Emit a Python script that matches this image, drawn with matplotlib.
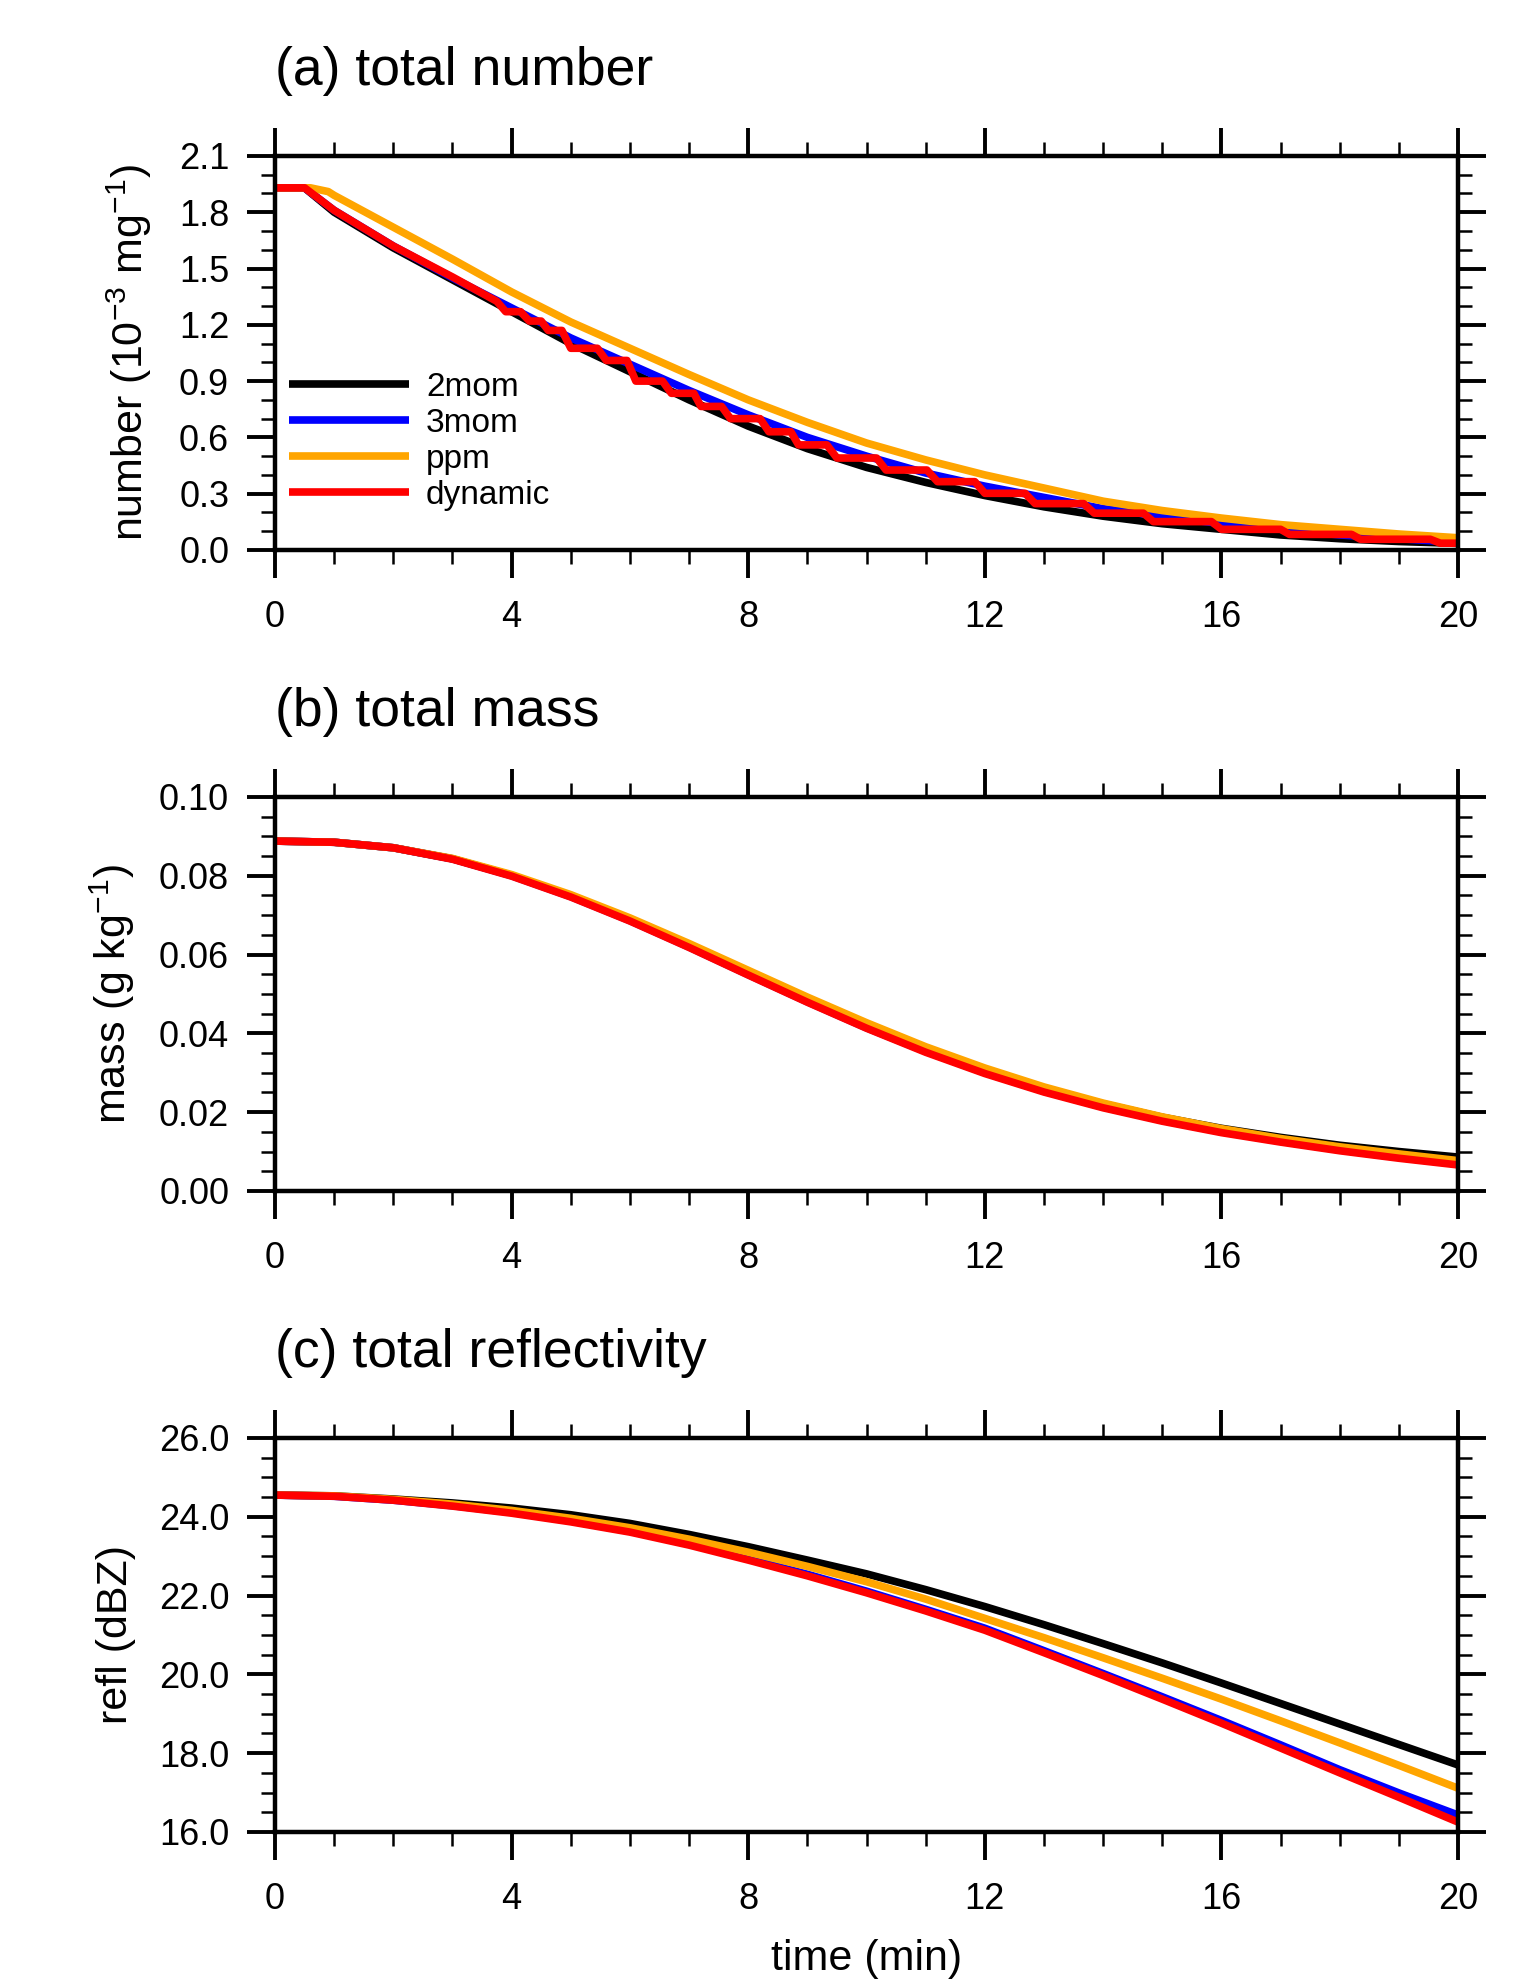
import matplotlib.pyplot as plt
from matplotlib.ticker import MultipleLocator, FormatStrFormatter

plt.rcParams['font.family'] = ['Liberation Sans', 'DejaVu Sans']
plt.rcParams['mathtext.default'] = 'regular'

# ---- data ----
schemes = ["2mom", "3mom", "ppm", "dynamic"]
colors = ["black", "#0000FF", "#FFA500", "#FF0000"]

# (a) total number (10^-3 mg^-1)
t_num = [0, 0.5, 1, 2, 3, 4, 5, 6, 7, 8, 9, 10, 11, 12, 13, 14, 15, 16, 17, 18, 19, 20]
num_2mom = [1.93, 1.93, 1.80, 1.61, 1.44, 1.27, 1.10, 0.95, 0.80, 0.66, 0.54, 0.44,
            0.36, 0.29, 0.23, 0.18, 0.14, 0.11, 0.08, 0.06, 0.045, 0.035]
num_3mom = [1.93, 1.93, 1.81, 1.62, 1.45, 1.29, 1.13, 0.99, 0.85, 0.72, 0.60, 0.50,
            0.41, 0.34, 0.28, 0.22, 0.18, 0.14, 0.11, 0.08, 0.06, 0.04]
t_num_ppm = [0, 0.6, 0.9, 1, 2, 3, 4, 5, 6, 7, 8, 9, 10, 11, 12, 13, 14, 15, 16, 17, 18, 19, 20]
num_ppm = [1.93, 1.93, 1.91, 1.89, 1.72, 1.55, 1.375, 1.215, 1.075, 0.935, 0.80, 0.68,
           0.57, 0.48, 0.40, 0.33, 0.26, 0.21, 0.17, 0.135, 0.11, 0.085, 0.065]
t_num_dyn = [0, 0.5, 1, 2, 3, 3.75, 3.9, 4.15, 4.3, 4.5, 4.62, 4.85, 5.0, 5.45, 5.6,
             5.95, 6.1, 6.55, 6.7, 7.08, 7.2, 7.55, 7.7, 8.2, 8.35, 8.72, 8.85, 9.33,
             9.5, 10.17, 10.33, 11.02, 11.2, 11.83, 12.0, 12.68, 12.85, 13.67, 13.85,
             14.68, 14.85, 15.83, 16.0, 17.0, 17.15, 18.2, 18.35, 19.53, 19.7, 20]
num_dyn = [1.93, 1.93, 1.81, 1.62, 1.455, 1.325, 1.27, 1.27, 1.22, 1.22, 1.17, 1.17,
           1.075, 1.075, 1.01, 1.01, 0.90, 0.90, 0.835, 0.835, 0.765, 0.765, 0.70,
           0.70, 0.63, 0.63, 0.56, 0.56, 0.49, 0.49, 0.426, 0.426, 0.364, 0.364,
           0.302, 0.302, 0.247, 0.247, 0.196, 0.196, 0.151, 0.151, 0.110, 0.110,
           0.083, 0.083, 0.057, 0.057, 0.036, 0.036]

# (b) total mass (g kg^-1), (c) reflectivity (dBZ), every minute
t_min = list(range(21))
mass_2mom = [0.0888, 0.0885, 0.0871, 0.0843, 0.0801, 0.0749, 0.0689, 0.0623, 0.0554, 0.0486, 0.0421,
             0.0361, 0.0308, 0.0261, 0.0221, 0.0187, 0.0159, 0.0136, 0.0116, 0.0100, 0.0086]
mass_3mom = [0.0888, 0.0885, 0.0871, 0.0843, 0.0800, 0.0747, 0.0686, 0.0619, 0.0549, 0.0480, 0.0414,
             0.0354, 0.0300, 0.0253, 0.0213, 0.0179, 0.0150, 0.0126, 0.0104, 0.0085, 0.0068]
mass_ppm = [0.0888, 0.0885, 0.0871, 0.0844, 0.0803, 0.0752, 0.0693, 0.0628, 0.0560, 0.0492, 0.0427,
            0.0366, 0.0312, 0.0264, 0.0223, 0.0188, 0.0158, 0.0133, 0.0112, 0.0094, 0.0077]
mass_dyn = [0.0888, 0.0885, 0.0871, 0.0842, 0.0799, 0.0746, 0.0685, 0.0618, 0.0548, 0.0479, 0.0413,
            0.0352, 0.0298, 0.0251, 0.0211, 0.0177, 0.0148, 0.0124, 0.0102, 0.0083, 0.0066]

refl_2mom = [24.55, 24.53, 24.45, 24.35, 24.22, 24.05, 23.83, 23.55, 23.24, 22.90, 22.55,
             22.15, 21.72, 21.26, 20.78, 20.29, 19.78, 19.26, 18.74, 18.22, 17.70]
refl_3mom = [24.55, 24.52, 24.42, 24.28, 24.11, 23.89, 23.63, 23.31, 22.93, 22.54, 22.11,
             21.65, 21.17, 20.60, 20.02, 19.43, 18.83, 18.21, 17.58, 16.99, 16.43]
refl_ppm = [24.55, 24.53, 24.44, 24.32, 24.16, 23.96, 23.72, 23.43, 23.10, 22.74, 22.35,
            21.91, 21.42, 20.93, 20.42, 19.90, 19.37, 18.82, 18.26, 17.69, 17.11]
refl_dyn = [24.55, 24.52, 24.42, 24.27, 24.09, 23.87, 23.61, 23.28, 22.90, 22.50, 22.07,
            21.61, 21.12, 20.55, 19.97, 19.37, 18.76, 18.13, 17.50, 16.88, 16.25]

panels = [
    dict(title="(a) total number", ylabel="number (10$^{-3}$ mg$^{-1}$)",
         x=[t_num, t_num, t_num_ppm, t_num_dyn], y=[num_2mom, num_3mom, num_ppm, num_dyn],
         ylim=(0, 2.1), major=0.3, minor=0.1, fmt="%.1f"),
    dict(title="(b) total mass", ylabel="mass (g kg$^{-1}$)",
         x=[t_min] * 4, y=[mass_2mom, mass_3mom, mass_ppm, mass_dyn],
         ylim=(0, 0.10), major=0.02, minor=0.005, fmt="%.2f"),
    dict(title="(c) total reflectivity", ylabel="refl (dBZ)",
         x=[t_min] * 4, y=[refl_2mom, refl_3mom, refl_ppm, refl_dyn],
         ylim=(16, 26), major=2.0, minor=0.5, fmt="%.1f"),
]

fig = plt.figure(figsize=(15.22, 19.79), dpi=100)
bottoms = [0.7221, 0.3982, 0.0743]
axes = []
for p, b in zip(panels, bottoms):
    ax = fig.add_axes([0.1807, b, 0.7773, 0.1991])
    for xs, ys, c, name in zip(p["x"], p["y"], colors, schemes):
        ax.plot(xs, ys, color=c, lw=5.5, label=name, solid_capstyle="butt")
    ax.set_xlim(0, 20)
    ax.set_ylim(*p["ylim"])
    ax.xaxis.set_major_locator(MultipleLocator(4))
    ax.xaxis.set_minor_locator(MultipleLocator(1))
    ax.yaxis.set_major_locator(MultipleLocator(p["major"]))
    ax.yaxis.set_minor_locator(MultipleLocator(p["minor"]))
    ax.yaxis.set_major_formatter(FormatStrFormatter(p["fmt"]))
    ax.tick_params(which="major", direction="out", length=20, width=2.8,
                   top=True, right=True, labelsize=26)
    ax.tick_params(axis="x", which="major", pad=16)
    ax.tick_params(axis="y", which="major", pad=13)
    ax.tick_params(which="minor", direction="out", length=10, width=1.8,
                   top=True, right=True)
    for s in ax.spines.values():
        s.set_linewidth(3.2)
    ax.set_ylabel(p["ylabel"], fontsize=31, labelpad=18 if p is panels[0] else 16)
    ax.text(0, 1.18, p["title"], transform=ax.transAxes, fontsize=38.5,
            ha="left", va="baseline")
    axes.append(ax)

axes[0].legend(loc="upper left", bbox_to_anchor=(0.012, 0.452), frameon=False,
               fontsize=24, handlelength=3.6, handletextpad=0.5, labelspacing=0.15,
               borderaxespad=0, borderpad=0)
axes[2].set_xlabel("time (min)", fontsize=31, labelpad=16)

plt.savefig("out.png", dpi=100)
